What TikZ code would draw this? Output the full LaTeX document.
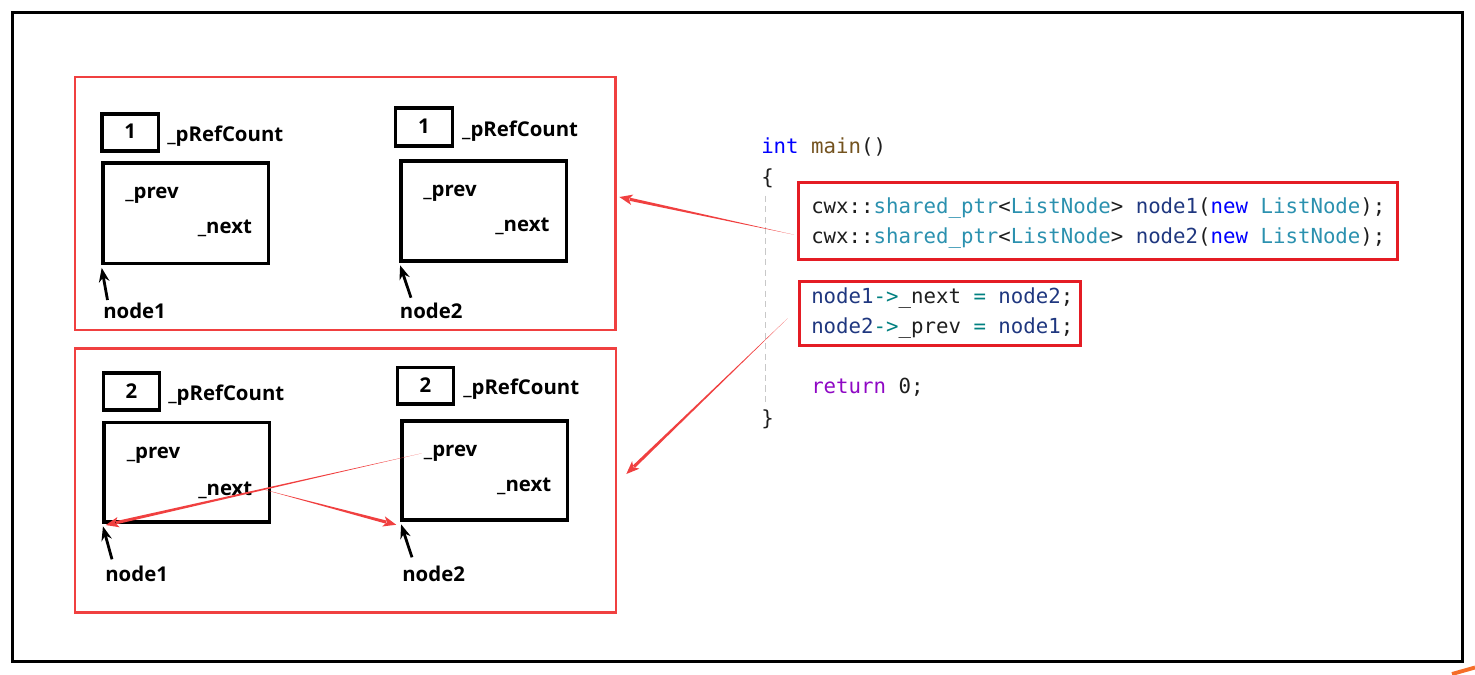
\documentclass[tikz,border=0pt]{standalone}
\usepackage{fontspec}
\setmonofont{DejaVu Sans Mono}
\newfontfamily\lblfont{Open Sans}
\usetikzlibrary{arrows.meta,calc,fit}
\definecolor{panelred}{RGB}{240,64,64}
\definecolor{codered}{RGB}{228,28,36}
\definecolor{cdark}{RGB}{30,30,30}
\definecolor{ctype}{RGB}{43,145,175}
\definecolor{cvar}{RGB}{31,55,127}
\definecolor{ckw}{RGB}{0,0,255}
\definecolor{cfn}{RGB}{116,83,31}
\definecolor{cop}{RGB}{0,128,128}
\definecolor{cret}{RGB}{143,8,196}
\definecolor{guidegray}{RGB}{200,200,200}
\definecolor{smudge}{RGB}{245,110,40}
\newcommand\taperarrow[3]{%
  \fill[#3] (#1) -- ($(#2)!6pt!(#1)!0.9pt!90:(#2)$) -- ($(#2)!6pt!(#1)!0.9pt!-90:(#2)$) -- cycle;
  \fill[#3] (#2) -- ($(#2)!7.5pt!(#1)!3pt!90:(#2)$) -- ($(#2)!5.5pt!(#1)$) -- ($(#2)!7.5pt!(#1)!3pt!-90:(#2)$) -- cycle;
}
\tikzset{
  panel/.style={draw=panelred, line width=1.5pt, inner sep=0pt},
  codebox/.style={draw=codered, line width=1.7pt, inner sep=0pt},
  bbox/.style={draw=black, line width=2pt, inner sep=0pt},
  lbl/.style={inner sep=0pt, anchor=base west, font=\lblfont\bfseries\fontsize{11.6}{13}\selectfont},
  digit/.style={inner sep=0pt, anchor=center, font=\lblfont\bfseries\fontsize{11.6}{13}\selectfont},
  code/.style={inner sep=0pt, anchor=base west, text=cdark, font=\ttfamily\fontsize{11.8}{14}\selectfont},
  ptrarrow/.style={draw=black, line width=1.6pt, -{Stealth[length=8pt,width=6pt]}, shorten >=1.5pt},
  guide/.style={draw=guidegray, line width=0.6pt, dash pattern=on 3.5pt off 2.5pt},
}
\begin{document}
\begin{tikzpicture}[x=0.02cm, y=-0.02cm]
\useasboundingbox (0,0) rectangle (1475,674);
% outer frame
\node[draw=black, line width=1.7pt, inner sep=0pt, fit={(12.5,12.5) (1462,661.5)}] (frame) {};
\draw[smudge, line width=2.2pt] (1452,674) -- (1475,667.5);

% panels
\node[panel, fit={(75,77) (615.5,330)}] (pTop) {};
\node[panel, fit={(75,348.5) (616,612.5)}] (pBot) {};

% ---- top panel
\node[bbox, fit={(102,114) (158.5,150.8)}] (c1L) {};
\node[digit] (d1L) at ([yshift=0.5pt]c1L.center) {1};
\node[lbl] (rc1L) at (167,141.7) {\_pRefCount};
\node[bbox, fit={(103,163) (268.5,263.5)}] (b1L) {};
\node[lbl] (pv1L) at (125,198) {\_prev};
\node[lbl] (nx1L) at (197.5,233) {\_next};
\node[lbl] (n1T) at (102.9,318.3) {node1};
\coordinate (t1L) at (107.5,300);
\draw[ptrarrow] (t1L) -- (b1L.south west);

\node[bbox, fit={(395.5,108) (452.5,146)}] (c1R) {};
\node[digit] (d1R) at ([yshift=0.5pt]c1R.center) {1};
\node[lbl] (rc1R) at (461.8,136) {\_pRefCount};
\node[bbox, fit={(401,161) (566.5,261)}] (b1R) {};
\node[lbl] (pv1R) at (422.9,196.7) {\_prev};
\node[lbl] (nx1R) at (495,231.7) {\_next};
\node[lbl] (n2T) at (399.6,318.3) {node2};
\coordinate (t1R) at (411,297.7);
\draw[ptrarrow] (t1R) -- (b1R.south west);

% ---- bottom panel
\node[bbox, fit={(103.5,373) (159.5,410)}] (c2L) {};
\node[digit] (d2L) at ([yshift=0.5pt]c2L.center) {2};
\node[lbl] (rc2L) at (168,400.7) {\_pRefCount};
\node[bbox, fit={(104,422.5) (269.5,522)}] (b2L) {};
\node[lbl] (pv2L) at (126.4,458.3) {\_prev};
\node[lbl] (nx2L) at (197.9,495) {\_next};
\node[lbl] (n1B) at (105,581.7) {node1};
\coordinate (t2L) at (112,559.3);
\draw[ptrarrow] (t2L) -- (b2L.south west);

\node[bbox, fit={(397.5,367.5) (453.5,404)}] (c2R) {};
\node[digit] (d2R) at ([yshift=0.5pt]c2R.center) {2};
\node[lbl] (rc2R) at (462.9,394) {\_pRefCount};
\node[bbox, fit={(402,421) (567.5,520)}] (b2R) {};
\node[lbl] (pv2R) at (423.6,456.7) {\_prev};
\node[lbl] (nx2R) at (496.8,491.7) {\_next};
\node[lbl] (n2B) at (402,581.7) {node2};
\coordinate (t2R) at (412,557.3);
\draw[ptrarrow] (t2R) -- (b2R.south west);

% red pointer arrows in bottom panel
\coordinate (s1) at (262.9,489.3);
\coordinate (e1) at ([shift={(-4,3)}]b2R.south west);
\taperarrow{s1}{e1}{panelred}
\coordinate (s2) at (421.8,453.3);
\coordinate (e2) at ([shift={(3.5,1.3)}]b2L.south west);
\taperarrow{s2}{e2}{panelred}

% ---- code
\node[code] (l0) at (760.9,153.3) {{\color{ckw}int} {\color{cfn}main}()};
\node[code] (lb) at (760.9,184) {\{};
\node[code] (l1) at (810.9,213.3) {cwx::{\color{ctype}shared\_ptr}<{\color{ctype}ListNode}> {\color{cvar}node1}({\color{ckw}new} {\color{ctype}ListNode});};
\node[code] (l2) at (810.9,243.3) {cwx::{\color{ctype}shared\_ptr}<{\color{ctype}ListNode}> {\color{cvar}node2}({\color{ckw}new} {\color{ctype}ListNode});};
\node[code] (l3) at (810.9,303.3) {{\color{cvar}node1}{\color{cop}->}\_next {\color{cop}=} {\color{cvar}node2};};
\node[code] (l4) at (810.9,333.3) {{\color{cvar}node2}{\color{cop}->}\_prev {\color{cop}=} {\color{cvar}node1};};
\node[code] (l5) at (810.9,393.3) {{\color{cret}return} 0;};
\node[code] (rb) at (760.9,425) {\}};
\draw[guide] ($(lb.south)+(-2,8)$) -- ($(rb.north)+(-2,-6)$);

\node[codebox, fit={(798.5,182.2) (1397.2,259.2)}] (cb1) {};
\node[codebox, fit={(799,281) (1080.5,345.8)}] (cb2) {};

% code to panel arrows
\coordinate (sA) at ([shift={(-3,14)}]cb1.west);
\coordinate (tA) at ([shift={(2.5,-6.5)}]pTop.east);
\taperarrow{sA}{tA}{panelred}
\coordinate (sB) at ([shift={(-10,5)}]cb2.west);
\coordinate (tB) at ([shift={(9,-6.5)}]pBot.east);
\taperarrow{sB}{tB}{panelred}
\end{tikzpicture}
\end{document}
